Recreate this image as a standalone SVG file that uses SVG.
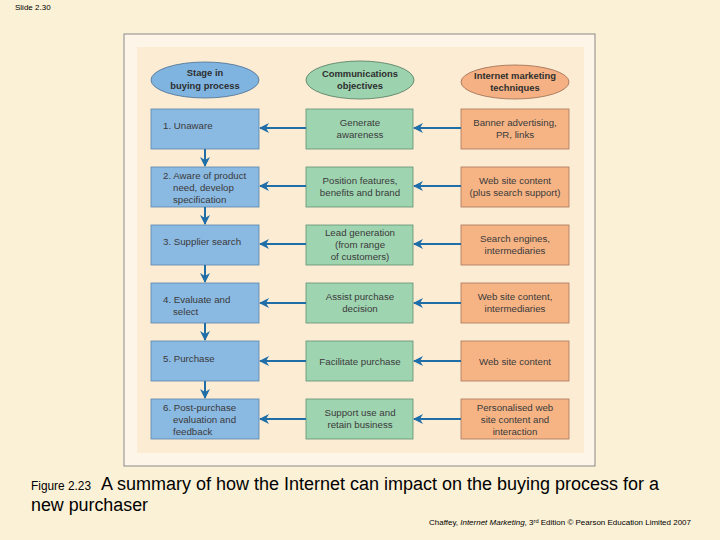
<svg xmlns="http://www.w3.org/2000/svg" width="720" height="540" viewBox="0 0 720 540">
<defs>
<marker id="ah" viewBox="0 0 10 10" refX="9" refY="5" markerWidth="5" markerHeight="5" orient="auto-start-reverse" markerUnits="strokeWidth">
<path d="M0,0 L10,5 L0,10 L3,5 Z" fill="#1f6ea8"/>
</marker>
<style>
.bg{fill:#fbf1d6}
.frame{fill:#fdf6e8;stroke:#8a8a8a;stroke-width:1}
.panel{fill:#fcecd3}
.b{fill:#8ab9e2;stroke:#5a85ad;stroke-width:0.8}
.g{fill:#9fd4b1;stroke:#5e8f70;stroke-width:0.8}
.o{fill:#f6b485;stroke:#a9765a;stroke-width:0.8}
.eb{fill:#80b4e0;stroke:#4d6f90;stroke-width:0.8}
.eg{fill:#9cd2ae;stroke:#4f7a5f;stroke-width:0.8}
.eo{fill:#f5b183;stroke:#9b6b50;stroke-width:0.8}
text{font-family:"Liberation Sans",Arial,sans-serif}
.t{font-size:9.7px;fill:#3a3a3a}
.c{text-anchor:middle}
.h{font-size:9.4px;font-weight:bold;fill:#2e2e2e;text-anchor:middle}
.ar{stroke:#1f6ea8;stroke-width:2;fill:none;marker-end:url(#ah)}
</style>
</defs>
<rect class="bg" x="0" y="0" width="720" height="540"/>
<text x="15" y="10" font-size="8" fill="#000">Slide 2.30</text>
<rect class="frame" x="124" y="34" width="471" height="432"/>
<rect class="panel" x="137" y="47" width="447" height="406"/>

<g id="head-stage"><ellipse class="eb" cx="205" cy="80" rx="54" ry="18"/><text class="h" x="205" y="76">Stage in</text><text class="h" x="205" y="89">buying process</text></g>
<g id="head-comm"><ellipse class="eg" cx="360" cy="80" rx="54" ry="19"/><text class="h" x="360" y="77">Communications</text><text class="h" x="360" y="89">objectives</text></g>
<g id="head-inet"><ellipse class="eo" cx="515" cy="82" rx="54" ry="17"/><text class="h" x="515" y="79">Internet marketing</text><text class="h" x="515" y="91">techniques</text></g>

<g id="s1"><rect class="b" x="151" y="109" width="108" height="40"/><text class="t" x="163" y="129">1. Unaware</text></g>
<g id="s2"><rect class="b" x="151" y="167" width="108" height="40"/><text class="t" x="163" y="179">2. Aware of product</text><text class="t" x="173" y="191">need, develop</text><text class="t" x="173" y="203">specification</text></g>
<g id="s3"><rect class="b" x="151" y="225" width="108" height="40"/><text class="t" x="163" y="245">3. Supplier search</text></g>
<g id="s4"><rect class="b" x="151" y="283" width="108" height="40"/><text class="t" x="163" y="303">4. Evaluate and</text><text class="t" x="173" y="315">select</text></g>
<g id="s5"><rect class="b" x="151" y="341" width="108" height="40"/><text class="t" x="163" y="362">5. Purchase</text></g>
<g id="s6"><rect class="b" x="151" y="399" width="108" height="40"/><text class="t" x="163" y="411">6. Post-purchase</text><text class="t" x="173" y="423">evaluation and</text><text class="t" x="173" y="435">feedback</text></g>

<g id="c1"><rect class="g" x="306" y="109" width="107" height="40"/><text class="t c" x="360" y="126">Generate</text><text class="t c" x="360" y="138">awareness</text></g>
<g id="c2"><rect class="g" x="306" y="167" width="107" height="40"/><text class="t c" x="360" y="184">Position features,</text><text class="t c" x="360" y="196">benefits and brand</text></g>
<g id="c3"><rect class="g" x="306" y="225" width="107" height="40"/><text class="t c" x="360" y="236">Lead generation</text><text class="t c" x="360" y="248">(from range</text><text class="t c" x="360" y="260">of customers)</text></g>
<g id="c4"><rect class="g" x="306" y="283" width="107" height="40"/><text class="t c" x="360" y="300">Assist purchase</text><text class="t c" x="360" y="312">decision</text></g>
<g id="c5"><rect class="g" x="306" y="341" width="107" height="40"/><text class="t c" x="360" y="365">Facilitate purchase</text></g>
<g id="c6"><rect class="g" x="306" y="399" width="107" height="40"/><text class="t c" x="360" y="416">Support use and</text><text class="t c" x="360" y="428">retain business</text></g>

<g id="i1"><rect class="o" x="461" y="109" width="108" height="40"/><text class="t c" x="515" y="126">Banner advertising,</text><text class="t c" x="515" y="138">PR, links</text></g>
<g id="i2"><rect class="o" x="461" y="167" width="108" height="40"/><text class="t c" x="515" y="184">Web site content</text><text class="t c" x="515" y="196">(plus search support)</text></g>
<g id="i3"><rect class="o" x="461" y="225" width="108" height="40"/><text class="t c" x="515" y="242">Search engines,</text><text class="t c" x="515" y="254">intermediaries</text></g>
<g id="i4"><rect class="o" x="461" y="283" width="108" height="40"/><text class="t c" x="515" y="300">Web site content,</text><text class="t c" x="515" y="312">intermediaries</text></g>
<g id="i5"><rect class="o" x="461" y="341" width="108" height="40"/><text class="t c" x="515" y="365">Web site content</text></g>
<g id="i6"><rect class="o" x="461" y="399" width="108" height="40"/><text class="t c" x="515" y="411">Personalised web</text><text class="t c" x="515" y="423">site content and</text><text class="t c" x="515" y="435">interaction</text></g>

<g id="connectors">
<path class="ar" d="M306,128 H260"/>
<path class="ar" d="M461,128 H414"/>
<path class="ar" d="M306,186 H260"/>
<path class="ar" d="M461,186 H414"/>
<path class="ar" d="M306,244 H260"/>
<path class="ar" d="M461,244 H414"/>
<path class="ar" d="M306,303 H260"/>
<path class="ar" d="M461,303 H414"/>
<path class="ar" d="M306,361 H260"/>
<path class="ar" d="M461,361 H414"/>
<path class="ar" d="M306,419 H260"/>
<path class="ar" d="M461,419 H414"/>
<path class="ar" d="M205,149 V166"/>
<path class="ar" d="M205,207 V224"/>
<path class="ar" d="M205,265 V282"/>
<path class="ar" d="M205,323 V340"/>
<path class="ar" d="M205,381 V398"/>
</g>

<text x="31" y="490" font-size="12" fill="#000" textLength="60" lengthAdjust="spacingAndGlyphs">Figure 2.23</text>
<text x="101" y="490" font-size="18" fill="#000" textLength="558" lengthAdjust="spacingAndGlyphs">A summary of how the Internet can impact on the buying process for a</text>
<text x="31" y="511" font-size="18" fill="#000" textLength="117" lengthAdjust="spacingAndGlyphs">new purchaser</text>
<text x="429" y="525" font-size="7" fill="#000" textLength="262" lengthAdjust="spacingAndGlyphs">Chaffey, <tspan font-style="italic">Internet Marketing</tspan>, 3<tspan font-size="5" dy="-2">rd</tspan><tspan dy="2"> Edition © Pearson Education Limited 2007</tspan></text>
</svg>
